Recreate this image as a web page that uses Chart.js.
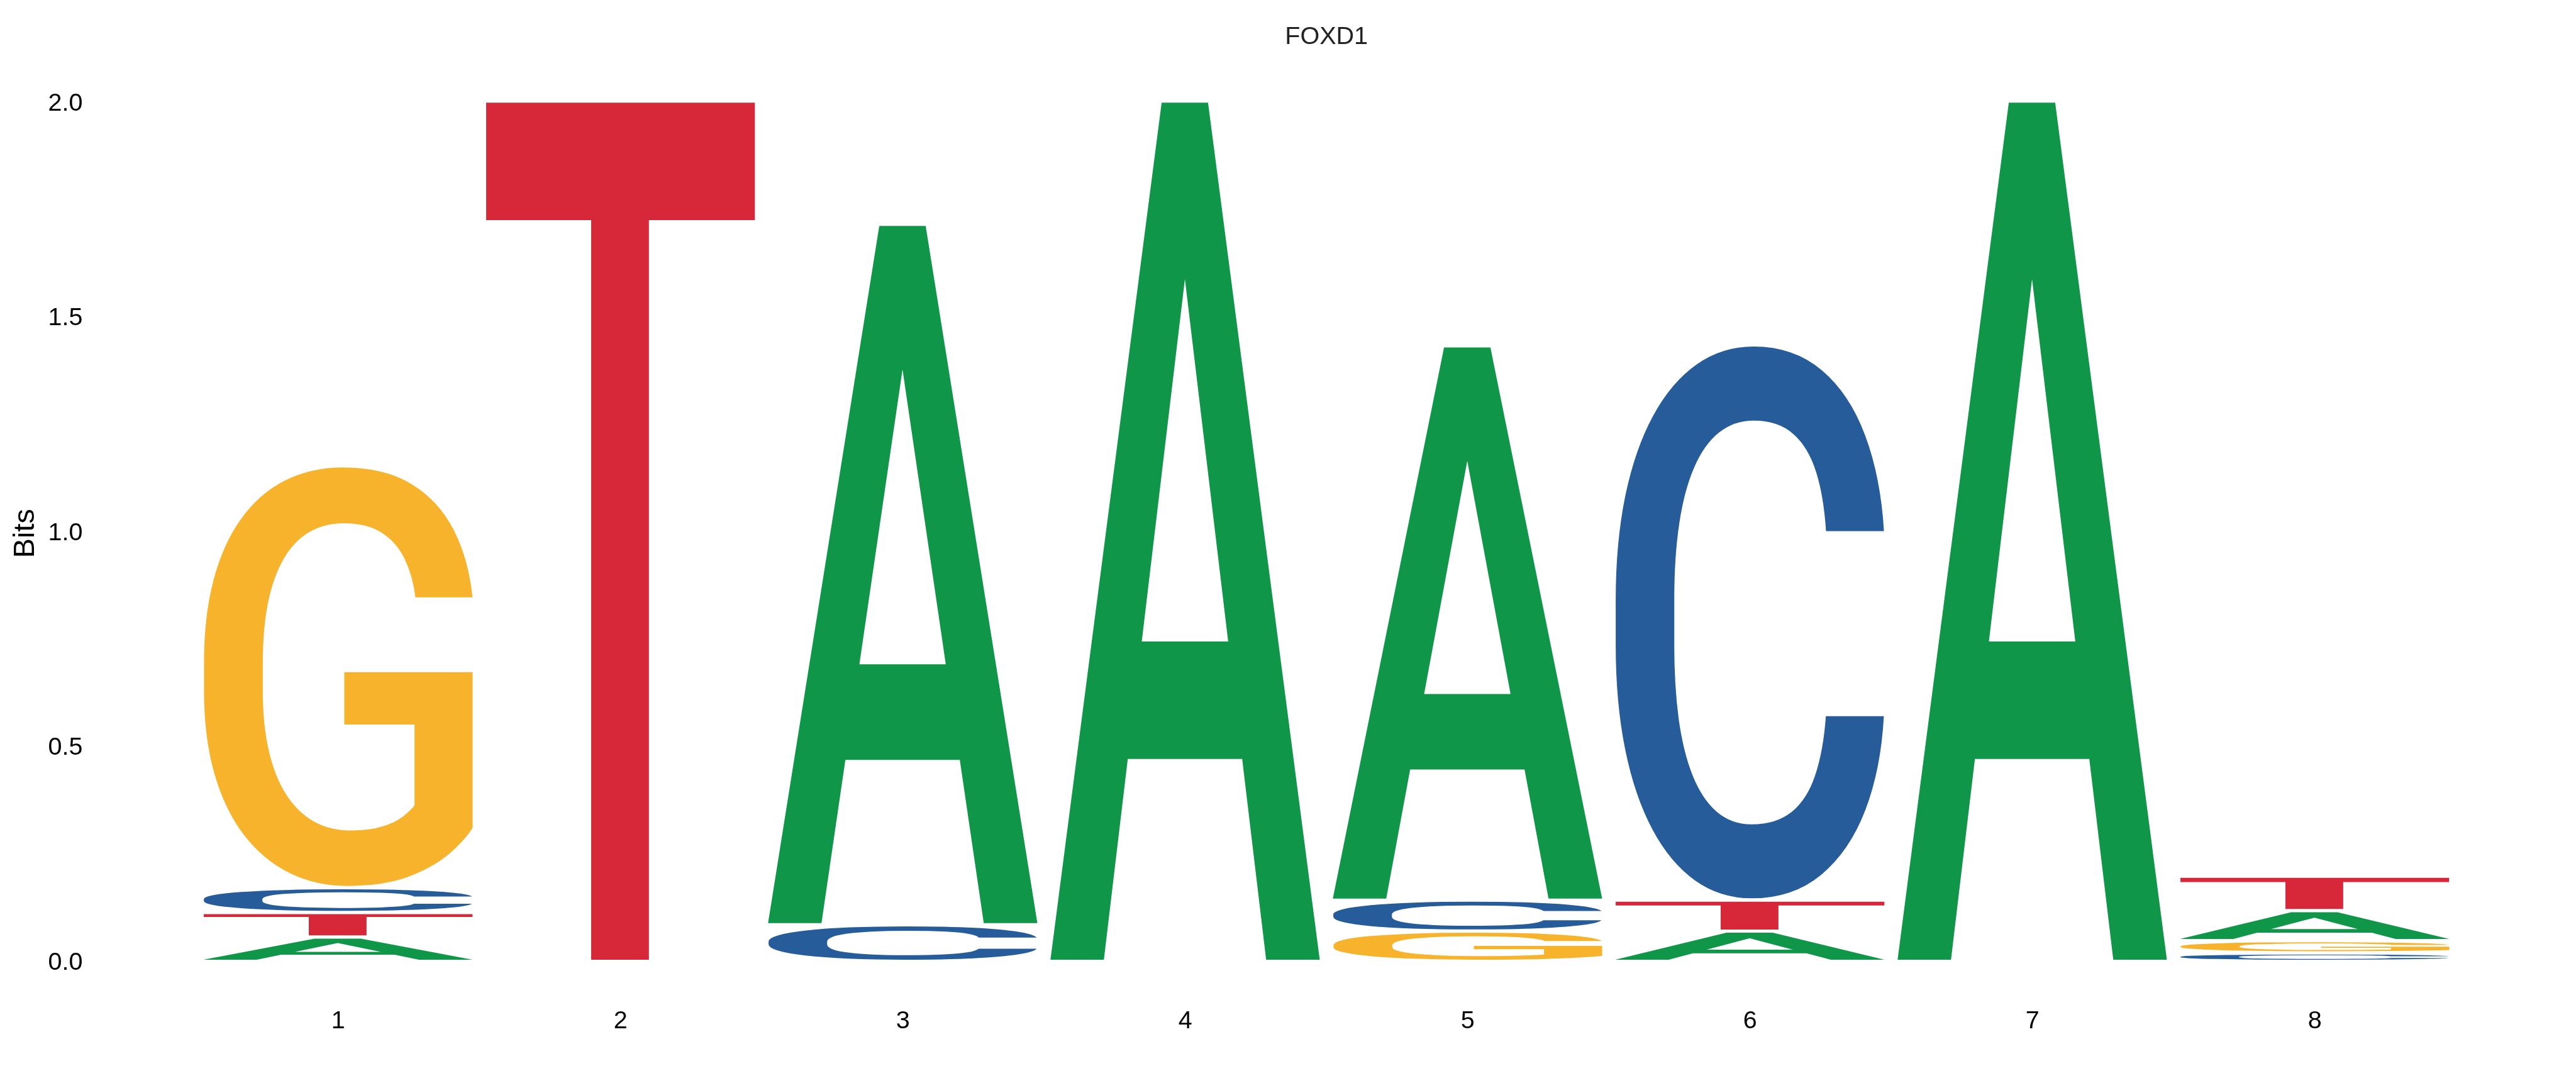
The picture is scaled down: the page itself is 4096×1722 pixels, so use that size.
<!DOCTYPE html>
<html><head><meta charset="utf-8">
<script src="https://cdn.jsdelivr.net/npm/chart.js@4.4.1/dist/chart.umd.min.js"></script>
<style>html,body{margin:0;padding:0;background:#fff;overflow:hidden}</style>
</head><body>
<canvas id="c" width="4096" height="1722"></canvas>
<script>
// ---- data (bits per letter, per position) ----
const positions = ['1', '2', '3', '4', '5', '6', '7', '8'];
const bitsA = [0.0565, 0, 1.6286, 2.0, 1.2886, 0.0703, 2.0, 0.0699];
const bitsC = [0.0576, 0, 0.0851, 0, 0.0721, 1.2910, 0, 0.0197];
const bitsG = [0.9810, 0, 0, 0, 0.0703, 0, 0, 0.0285];
const bitsT = [0.0572, 2.0, 0, 0, 0, 0.0721, 0, 0.0800];
const yTickValues = [0, 0.5, 1.0, 1.5, 2.0];
const chartTitle = 'FOXD1';
const yTitle = 'Bits';

const letterColors = { A: '#109648', C: '#255C99', G: '#F7B32B', T: '#D62839' };
const FONT = '"Liberation Sans", Arial, Helvetica, sans-serif';
const GLYPH_FONT = '500 400px Roboto, "DejaVu Sans", sans-serif';

// stacking layers: smallest letter at bottom, largest on top
const letterBits = { A: bitsA, C: bitsC, G: bitsG, T: bitsT };
const layers = [[], [], [], []].map(() => ({ values: [], letters: [] }));
positions.forEach((p, i) => {
  const sorted = Object.keys(letterBits)
    .map(l => ({ l, v: letterBits[l][i] }))
    .sort((a, b) => a.v - b.v);
  sorted.forEach((e, k) => { layers[k].values.push(e.v); layers[k].letters.push(e.l); });
});

// exact ink box of a glyph (scanned from an offscreen rendering)
const inkCache = {};
function inkBox(letter) {
  if (inkCache[letter]) return inkCache[letter];
  const W = 800, H = 800, ox = 200, base = 600;
  const cv = document.createElement('canvas'); cv.width = W; cv.height = H;
  const c = cv.getContext('2d');
  c.font = GLYPH_FONT;
  c.fillStyle = '#000'; c.textBaseline = 'alphabetic'; c.textAlign = 'left';
  c.fillText(letter, ox, base);
  const d = c.getImageData(0, 0, W, H).data;
  let x0 = W, x1 = -1, y0 = H, y1 = -1;
  for (let y = 0; y < H; y++) for (let x = 0; x < W; x++) {
    if (d[(y * W + x) * 4 + 3] > 127) {
      if (x < x0) x0 = x; if (x > x1) x1 = x; if (y < y0) y0 = y; if (y > y1) y1 = y;
    }
  }
  const r = { left: x0 - ox, right: x1 + 1 - ox, top: y0 - base, bottom: y1 + 1 - base };
  inkCache[letter] = r;
  return r;
}

function drawGlyph(ctx, letter, left, top, w, h, color) {
  const b = inkBox(letter);
  ctx.save();
  ctx.font = GLYPH_FONT;
  ctx.textAlign = 'left';
  ctx.textBaseline = 'alphabetic';
  ctx.translate(left, top);
  ctx.scale(w / (b.right - b.left), h / (b.bottom - b.top));
  ctx.fillStyle = color;
  ctx.fillText(letter, -b.left, -b.top);
  ctx.restore();
}

const logoPlugin = {
  id: 'logoGlyphs',
  afterDatasetsDraw(chart, args, opts) {
    const ctx = chart.ctx;
    const gap = opts.gap || 0;
    chart.data.datasets.forEach((ds, di) => {
      const meta = chart.getDatasetMeta(di);
      meta.data.forEach((bar, i) => {
        const letter = ds.letters[i];
        const p = bar.getProps(['x', 'y', 'base', 'width'], true);
        const top = Math.min(p.y, p.base);
        const bottom = Math.max(p.y, p.base) - gap;
        const h = bottom - top;
        if (!letter || h <= 0.5) return;
        drawGlyph(ctx, letter, p.x - p.width / 2, top, p.width, h, letterColors[letter]);
      });
    });
  }
};

new Chart(document.getElementById('c'), {
  type: 'bar',
  data: {
    labels: positions,
    datasets: layers.map((l, k) => ({
      label: 'layer' + k,
      data: l.values,
      letters: l.letters,
      backgroundColor: 'rgba(0,0,0,0)',
      borderWidth: 0,
      barPercentage: 0.95,
      categoryPercentage: 1.0
    }))
  },
  options: {
    responsive: false,
    animation: false,
    devicePixelRatio: 1,
    layout: { padding: { left: 76.5, right: 190.8, top: 0, bottom: 0 } },
    plugins: {
      legend: { display: false },
      tooltip: { enabled: false },
      title: {
        display: true,
        text: chartTitle,
        fullSize: false,
        color: '#222',
        font: { family: FONT, size: 39.5, weight: 'normal' },
        padding: { top: 35.9, bottom: 81.8 }
      },
      logoGlyphs: { gap: 5.2 }
    },
    scales: {
      x: {
        stacked: true,
        grid: { display: false, drawTicks: false },
        border: { display: false },
        ticks: { color: '#000', font: { family: FONT, size: 39.5 }, padding: 69.3 },
        afterFit(s) { s.height = 190.9; }
      },
      y: {
        stacked: true,
        min: 0,
        max: 2,
        grid: { display: false, drawTicks: false },
        border: { display: false },
        afterBuildTicks(s) { s.ticks = yTickValues.map(v => ({ value: v })); },
        ticks: {
          color: '#000',
          font: { family: FONT, size: 39.5 },
          padding: 0,
          crossAlign: 'far',
          callback: v => Number(v).toFixed(1)
        },
        title: {
          display: true,
          text: yTitle,
          color: '#000',
          font: { family: FONT, size: 47 },
          padding: { top: -63.8, bottom: 0 }
        },
        afterFit(s) { s.width = 236.7; }
      }
    }
  },
  plugins: [logoPlugin]
});
</script>
</body></html>
